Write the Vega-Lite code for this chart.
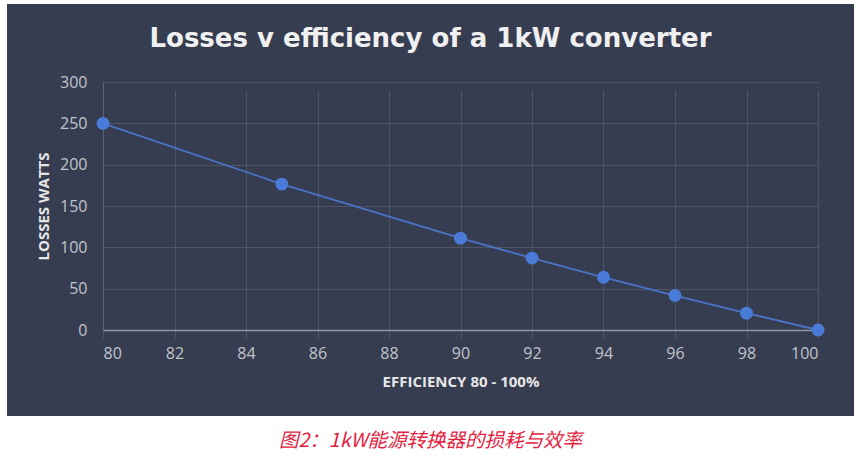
{
  "$schema": "https://vega.github.io/schema/vega-lite/v6.json",
  "width": 847,
  "height": 412,
  "autosize": {"type": "none"},
  "padding": {"left": 7, "top": 4, "right": 6, "bottom": 45},
  "background": "white",
  "title": {
    "text": "Losses v efficiency of a 1kW converter",
    "anchor": "middle",
    "frame": "group",
    "offset": -48,
    "fontSize": 26,
    "font": "DejaVu Sans",
    "fontWeight": "bold",
    "color": "#f0f0f0"
  },
  "data": {
    "values": [
      {"efficiency": 80, "losses": 250},
      {"efficiency": 85, "losses": 176.5},
      {"efficiency": 90, "losses": 111.1},
      {"efficiency": 92, "losses": 87},
      {"efficiency": 94, "losses": 63.8},
      {"efficiency": 96, "losses": 41.7},
      {"efficiency": 98, "losses": 20.4},
      {"efficiency": 100, "losses": 0}
    ]
  },
  "layer": [
    {
      "mark": {
        "type": "line",
        "color": "#4a72c6",
        "strokeWidth": 1.8,
        "point": {"filled": true, "size": 165, "color": "#4a7bd8", "opacity": 1}
      },
      "encoding": {
        "x": {
          "field": "efficiency",
          "type": "quantitative",
          "scale": {"domain": [80, 100], "range": [96, 811], "nice": false, "zero": false},
          "axis": {
            "offset": -86,
            "title": "EFFICIENCY 80 - 100%",
            "values": [80, 82, 84, 86, 88, 90, 92, 94, 96, 98, 100],
            "grid": true,
            "gridColor": "#4e5567",
            "ticks": false,
            "domainColor": "#8e959b",
            "domainWidth": 1.5,
            "labelFont": "Open Sans",
            "labelFontSize": 16,
            "labelColor": "#c0c4cb",
            "labelPadding": 15,
            "titleFont": "Open Sans",
            "titleFontSize": 15,
            "titleFontWeight": "bold",
            "titleColor": "#e6e6e6",
            "titlePadding": 13
          }
        },
        "y": {
          "field": "losses",
          "type": "quantitative",
          "scale": {"domain": [0, 300], "range": [326, 78], "nice": false},
          "axis": {
            "offset": -96,
            "title": "LOSSES WATTS",
            "values": [0, 50, 100, 150, 200, 250, 300],
            "grid": true,
            "gridColor": "#4e5567",
            "ticks": false,
            "domainColor": "#5d6473",
            "labelFont": "Open Sans",
            "labelFontSize": 16,
            "labelColor": "#c0c4cb",
            "labelPadding": 16,
            "titleFont": "Open Sans",
            "titleFontSize": 15,
            "titleFontWeight": "bold",
            "titleColor": "#e6e6e6",
            "titlePadding": 8
          }
        }
      }
    },
    {
      "mark": {"type": "point", "opacity": 0},
      "encoding": {
        "x": {
          "field": "efficiency",
          "type": "quantitative",
          "axis": {
            "orient": "bottom",
            "offset": 0,
            "title": "图2：1kW能源转换器的损耗与效率",
            "labels": false,
            "ticks": false,
            "domain": false,
            "grid": false,
            "titleX": 423,
            "titleY": 24,
            "titleBaseline": "middle",
            "titleFont": "Noto Sans CJK SC",
            "titleFontSize": 19.5,
            "titleFontWeight": "normal",
            "titleFontStyle": "italic",
            "titleColor": "#e41e3f"
          }
        }
      }
    }
  ],
  "resolve": {"axis": {"x": "independent"}},
  "config": {"view": {"fill": "#373d51", "stroke": null}}
}
